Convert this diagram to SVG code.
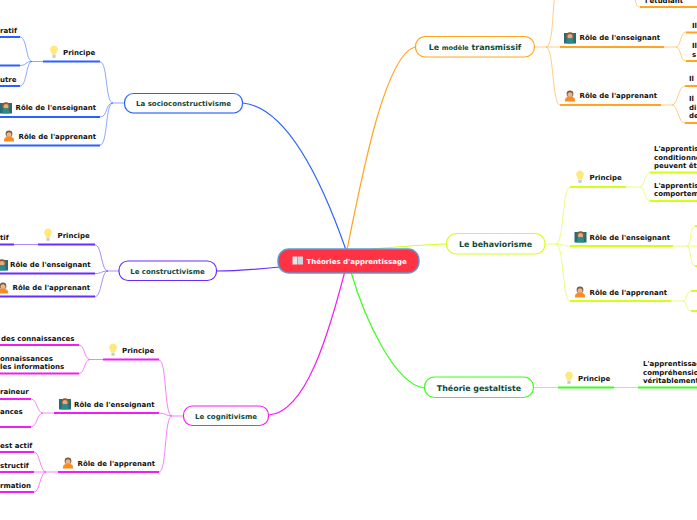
<svg xmlns="http://www.w3.org/2000/svg" width="697" height="520" viewBox="0 0 697 520">
<style>
text{font-family:"DejaVu Sans",Verdana,sans-serif;font-weight:700;fill:#111;font-size:7px}
.m{fill:#0e4a3a;text-anchor:middle;font-size:7px}
.big{font-size:7.9px}
.c{fill:none;stroke-width:1;opacity:.55}
.u{fill:none;stroke-width:1.8}
.t{fill:none;stroke-width:1.2}
.box{fill:#fff;stroke-width:1.2}
.bb{fill:none;stroke-width:1.6;stroke-linecap:round}
.blue{stroke:#2962ff}.pur{stroke:#6a2cff}.mag{stroke:#f21df2}.ora{stroke:#ffa51f}.yel{stroke:#d4ff1a}.gre{stroke:#3dff1a}
</style>
<defs>
<g id="bulb"><path d="M0-6.500a4 4 0 0 1 2.700 6.900L1.800 2.600H-1.800L-2.700.4A4 4 0 0 1 0-6.500z" fill="#ffe97a"/><rect x="-1.600" y="2.800" width="3.200" height="3" fill="#c9ccd0"/></g>
<g id="teacher"><rect x="-6" y="-5" width="12" height="10.500" fill="#1f6f78"/><circle cy="-1.800" r="4" fill="#8a5a3a"/><circle cy="-1.400" r="2.500" fill="#e0ac80"/><path d="M-3.500 5.500v-2.400a3.500 3 0 0 1 7 0v2.400z" fill="#2c8a8a"/></g>
<g id="student"><circle cy="-2" r="3.400" fill="#7a5a40"/><circle cy="-1.200" r="2.500" fill="#e8b58c"/><path d="M-5 5.500v-2a5 3 0 0 1 10 0v2z" fill="#ff8a1f"/></g>
</defs>
<g id="connectors">
<path class="t blue" d="M243 103C290 108 325 190 346 250"/>
<path class="t pur" d="M216 271C240 271 260 269 280 267"/>
<path class="t mag" d="M269 415C305 412 328 340 349 255"/>
<path class="t ora" d="M415 47C385 55 362 175 347 250"/>
<path class="t yel" d="M446 244C420 245 395 247 372 249"/>
<path class="t gre" d="M424 388C395 384 365 320 351 272"/>
<path class="c blue" d="M124 103H113C105 103 108 62 100 62M113 103C105 103 108 117 100 117M113 103C105 103 108 145 100 145"/>
<path class="u blue" d="M43 61.500H100M0 117H100M0 145.500H100M0 37H20M0 65.500H20M0 86H20"/>
<path class="c blue" d="M43 61.500H32C26 61.500 27 37 20 37M32 61.500C26 61.500 26 65.500 20 65.500M32 61.500C26 61.500 27 86 20 86"/>
<path class="c pur" d="M119 271H108C101 271 102 245 95 245M108 271C101 271 102 273.500 95 273.500M108 271C101 271 102 296.500 95 296.500"/>
<path class="u pur" d="M0 244.500H14M38 244.500H95M0 273.500H95M0 296.500H95"/>
<path class="c pur" d="M14 244.500H38"/>
<path class="c mag" d="M183 416H172C164 416 167 360 159 360M172 416C166 416 165 413 159 413M172 416C164 416 167 472 159 472"/>
<path class="u mag" d="M103 359.500H159M54 413H159M58 472H159M0 345H79M0 373.500H79M0 399H31M0 427H31M0 452H34M0 472H34M0 492H34"/>
<path class="c mag" d="M103 359.500H90C84 359.500 85 345 79 345M90 359.500C84 359.500 85 373.500 79 373.500M54 413H43C37 413 37 399 31 399M43 413C37 413 37 427 31 427M58 472H46C40 472 40 452 34 452M46 472H34M46 472C40 472 40 492 34 492"/>
<path class="c ora" d="M535 47H546C554 47 552 0 556 -8M546 47C552 47 554 47 560 47M546 47C554 47 552 105 560 105M664 47H676C681 47 680 32 686 32M676 47C681 47 680 61 686 61M661 105H672C678 105 678 86 685 86M672 105C678 105 678 123 685 123M634 -5C636 3 636 7 640 7"/>
<path class="u ora" d="M560 47H664M560 105H661M686 32.500H697M686 61H697M685 86H697M685 123H697M640 7H697"/>
<path class="c yel" d="M545 244H556C564 244 562 187 570 187M556 244C562 244 564 246 570 246M556 244C564 244 562 301 570 301M626 187H640C645 187 644 172.500 650 172.500M640 187C645 187 644 201 650 201M673 246H687C691 246 690 226 695 226M687 246H697M687 246C691 246 690 266 695 266M671 301H683C687 301 686 291 691 291M683 301C687 301 686 311 691 311"/>
<path class="u yel" d="M570 187H626M570 246H673M570 301H671M650 172.500H697M650 201H697M695 226H697M695 266H697M691 291H697M691 311H697"/>
<path class="c gre" d="M534 387.500H558M614 387.500H638"/>
<path class="u gre" d="M558 387.500H614M638 387.500H697"/>
</g>
<g id="root"><rect x="278" y="249" width="141" height="24" rx="11" fill="#ff3344" stroke="#5b9bd5" stroke-width="1.400"/>
<rect x="292.500" y="256.500" width="5" height="8" fill="#e3e6ea"/><rect x="298" y="256.500" width="5" height="8" fill="#cfd5da"/>
<text x="306.500" y="263.500" style="fill:#fff">Théories d'apprentissage</text></g>
<g id="socio"><rect class="box blue" x="124.500" y="93.500" width="118" height="19.500" rx="9"/><path class="bb" stroke="#7da0ff" d="M133 113H234"/><text class="m" x="183.500" y="106">La socioconstructivisme</text></g>
<g id="constr"><rect class="box pur" x="119" y="261" width="97.500" height="19.500" rx="9"/><text class="m" x="167.500" y="274">Le constructivisme</text></g>
<g id="cogni"><rect class="box mag" x="183.500" y="406" width="85" height="19.500" rx="9"/><text class="m" x="226" y="419">Le cognitivisme</text></g>
<g id="trans"><rect class="box ora" x="415.500" y="36.500" width="119" height="20.500" rx="10"/><text class="m big" x="475" y="49.800">Le <tspan font-size="6.500">modèle</tspan> transmissif</text></g>
<g id="behav"><rect class="box yel" x="446.500" y="233.500" width="98.500" height="20.500" rx="10"/><text class="m big" x="495.500" y="246.800">Le behaviorisme</text></g>
<g id="gestalt"><rect class="box gre" x="424.500" y="377" width="109" height="20.500" rx="10"/><text class="m big" x="479" y="390.500">Théorie gestaltiste</text></g>
<g id="labels-socio">
<text x="0" y="33">ratif</text>
<text x="0" y="81.500">utre</text>
<use href="#bulb" x="54" y="52"/><text x="63" y="55">Principe</text>
<use href="#teacher" x="6" y="108"/><text x="15.500" y="110">Rôle de l'enseignant</text>
<use href="#student" x="9" y="136"/><text x="18.500" y="139">Rôle de l'apprenant</text>
</g>
<g id="labels-constr">
<text x="0" y="240">tif</text>
<use href="#bulb" x="48" y="235"/><text x="57.500" y="238">Principe</text>
<use href="#teacher" x="2" y="265"/><text x="10" y="267">Rôle de l'enseignant</text>
<use href="#student" x="3" y="288"/><text x="12.500" y="290">Rôle de l'apprenant</text>
</g>
<g id="labels-cogni">
<text x="1" y="341">des connaissances</text>
<text x="0" y="361">onnaissances</text><text x="0" y="369">les informations</text>
<text x="0" y="394">raineur</text><text x="0" y="414">ances</text>
<text x="0" y="448">est actif</text><text x="0" y="468">structif</text><text x="0" y="488">rmation</text>
<use href="#bulb" x="113" y="350"/><text x="122" y="353">Principe</text>
<use href="#teacher" x="65" y="404"/><text x="74" y="407">Rôle de l'enseignant</text>
<use href="#student" x="68" y="463"/><text x="77.500" y="466">Rôle de l'apprenant</text>
</g>
<g id="labels-trans">
<text x="645" y="3">l'étudiant</text>
<use href="#teacher" x="570" y="38"/><text x="579.500" y="40">Rôle de l'enseignant</text>
<use href="#student" x="570" y="96"/><text x="579.500" y="98">Rôle de l'apprenant</text>
<text x="692" y="28">Il</text><text x="692" y="48">Il</text><text x="692" y="56.500">s</text>
<text x="689" y="81">Il</text><text x="689" y="101">Il</text><text x="689" y="110">di</text><text x="689" y="118">de</text>
</g>
<g id="labels-behav">
<use href="#bulb" x="580" y="177"/><text x="589.500" y="180">Principe</text>
<use href="#teacher" x="580.500" y="237"/><text x="589.500" y="240">Rôle de l'enseignant</text>
<use href="#student" x="580" y="292"/><text x="589.500" y="295">Rôle de l'apprenant</text>
<text x="654" y="151">L'apprentis</text><text x="654" y="159.500">conditionne</text><text x="654" y="168">peuvent êt</text>
<text x="654" y="188">L'apprentis</text><text x="654" y="196">comportem</text>
</g>
<g id="labels-gestalt">
<use href="#bulb" x="569" y="378"/><text x="578" y="381">Principe</text>
<text x="643" y="366">L'apprentissag</text><text x="643" y="374.500">compréhensio</text><text x="643" y="383">véritablement</text>
</g>
</svg>
